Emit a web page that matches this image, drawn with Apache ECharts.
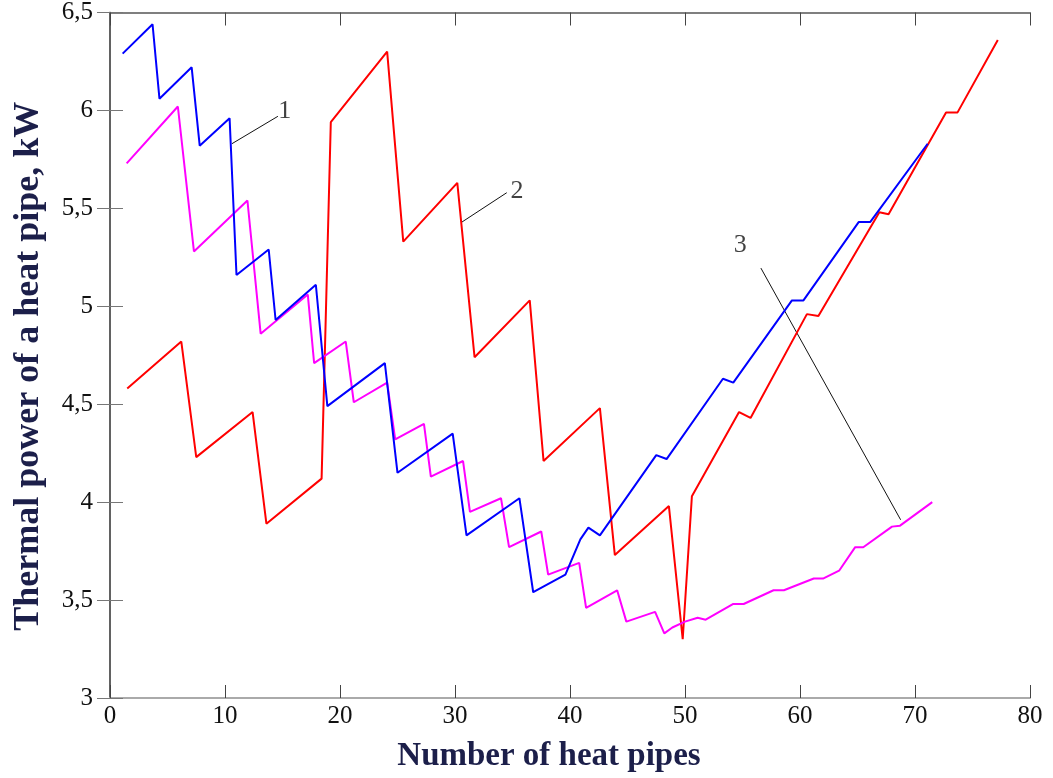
<!DOCTYPE html>
<html>
<head>
<meta charset="utf-8">
<script src="https://cdn.jsdelivr.net/npm/echarts@6/dist/echarts.min.js"></script>
<style>
  html, body { margin: 0; padding: 0; background: #fff; }
  #chart { width: 1053px; height: 778px; }
</style>
</head>
<body>
<div id="chart"></div>
<script>
// curve 1 (blue)
const curve1 = [
  [1.1, 6.29], [3.7, 6.44], [4.3, 6.06], [7.1, 6.22], [7.8, 5.82], [10.4, 5.96],
  [11.0, 5.16], [13.8, 5.29], [14.4, 4.93], [17.9, 5.11], [18.9, 4.49], [23.9, 4.71],
  [25.0, 4.15], [29.8, 4.35], [31.0, 3.83], [35.6, 4.02], [36.8, 3.54], [39.6, 3.63],
  [40.9, 3.81], [41.6, 3.87], [42.6, 3.83], [47.5, 4.24], [48.4, 4.22], [53.3, 4.63],
  [54.2, 4.61], [59.3, 5.03], [60.3, 5.03], [65.1, 5.43], [66.1, 5.43], [71.1, 5.83]
];
// curve 2 (red)
const curve2 = [
  [1.5, 4.58], [6.2, 4.82], [7.5, 4.23], [12.4, 4.46], [13.6, 3.89], [18.4, 4.12],
  [19.2, 5.94], [24.1, 6.30], [25.5, 5.33], [30.2, 5.63], [31.7, 4.74], [36.5, 5.03],
  [37.7, 4.21], [42.6, 4.48], [43.9, 3.73], [48.6, 3.98], [49.8, 3.30], [50.6, 4.03],
  [54.7, 4.46], [55.7, 4.43], [60.6, 4.96], [61.6, 4.95], [66.9, 5.48], [67.7, 5.47],
  [72.7, 5.99], [73.7, 5.99], [77.2, 6.36]
];
// curve 3 (magenta)
const curve3 = [
  [1.45, 5.73], [5.9, 6.02], [7.3, 5.28], [11.95, 5.54], [13.1, 4.86], [17.2, 5.06],
  [17.75, 4.71], [20.5, 4.82], [21.2, 4.51], [24.1, 4.61], [24.8, 4.32], [27.3, 4.40],
  [27.9, 4.13], [30.7, 4.21], [31.3, 3.95], [34.0, 4.02], [34.7, 3.77], [37.5, 3.85],
  [38.1, 3.63], [40.8, 3.69], [41.4, 3.46], [44.1, 3.55], [44.9, 3.39], [47.4, 3.44],
  [48.2, 3.33], [48.9, 3.36], [50.0, 3.39], [51.1, 3.41], [51.8, 3.40], [54.2, 3.48],
  [55.1, 3.48], [57.7, 3.55], [58.6, 3.55], [61.2, 3.61], [62.0, 3.61], [63.4, 3.65],
  [64.8, 3.77], [65.5, 3.77], [68.0, 3.875], [68.7, 3.88], [71.5, 4.00]
];

// callout leaders and labels
const leader1 = [[14.6, 5.97], [10.6, 5.83]];
const leader2 = [[34.5, 5.58], [30.6, 5.43]];
const leader3 = [[56.6, 5.195], [68.75, 3.91]];
const calloutText = ['1', '2', '3'];
const calloutPos = [[15.2, 5.995], [35.4, 5.59], [54.8, 5.31]];

const xMin = 0, xMax = 80, xStep = 10;
const yMin = 3, yMax = 6.5, yStep = 0.5;

const serif = '"Liberation Serif", "DejaVu Serif", serif';
const comma = v => String(v).replace('.', ',');

const chart = echarts.init(document.getElementById('chart'));

const baseX = {
  type: 'value', min: xMin, max: xMax, interval: xStep,
  splitLine: { show: false },
  axisTick: { inside: true, length: 13, lineStyle: { color: '#444', width: 1 } }
};
const baseY = {
  type: 'value', min: yMin, max: yMax, interval: yStep,
  splitLine: { show: false },
  axisTick: { inside: true, length: 13, lineStyle: { color: '#777', width: 1 } }
};

const line = (data, color) => ({
  type: 'line', data: data, symbol: 'none', animation: false,
  lineStyle: { color: color, width: 2 }, itemStyle: { color: color }
});
const leader = data => ({
  type: 'line', data: data, symbol: 'none', animation: false, z: 1,
  lineStyle: { color: '#111', width: 1 }
});

chart.setOption({
  backgroundColor: '#fff',
  animation: false,
  grid: { left: 110, right: 23, top: 9, bottom: 74, show: false },
  xAxis: [
    Object.assign({}, baseX, {
      position: 'bottom',
      axisLine: { onZero: false, lineStyle: { color: '#aaa', width: 2 } },
      axisLabel: { color: '#111', fontFamily: serif, fontSize: 25, margin: 6 },
      name: 'Number of heat pipes', nameLocation: 'middle', nameGap: 42,
      nameTextStyle: {
        color: '#1c1f4a', fontFamily: serif, fontWeight: 'bold', fontSize: 33,
        padding: [0, 42, 0, 0]
      }
    }),
    Object.assign({}, baseX, {
      position: 'top',
      axisLine: { lineStyle: { color: '#555', width: 1.5 } },
      axisLabel: { show: false }
    })
  ],
  yAxis: [
    Object.assign({}, baseY, {
      position: 'left',
      axisLine: { onZero: false, lineStyle: { color: '#222', width: 1.5 } },
      axisLabel: { color: '#111', fontFamily: serif, fontSize: 25, margin: 17, formatter: comma },
      name: 'Thermal power of a heat pipe, kW', nameLocation: 'middle', nameGap: 63,
      nameTextStyle: {
        color: '#1c1f4a', fontFamily: serif, fontWeight: 'bold', fontSize: 36,
        padding: [0, 22, 0, 0]
      }
    }),
    Object.assign({}, baseY, {
      position: 'right',
      axisLine: { lineStyle: { color: '#666', width: 1.5 } },
      axisLabel: { show: false }
    })
  ],
  series: [
    line(curve2, '#ff0000'),
    line(curve3, '#ff00ff'),
    line(curve1, '#0000ff'),
    leader(leader1),
    leader(leader2),
    leader(leader3),
    {
      type: 'scatter', symbolSize: 0, animation: false,
      data: calloutPos.map((p, i) => ({ value: p, name: calloutText[i] })),
      label: {
        show: true, position: 'inside', formatter: '{b}',
        color: '#111', fontFamily: serif, fontSize: 26
      }
    }
  ]
});
</script>
</body>
</html>
